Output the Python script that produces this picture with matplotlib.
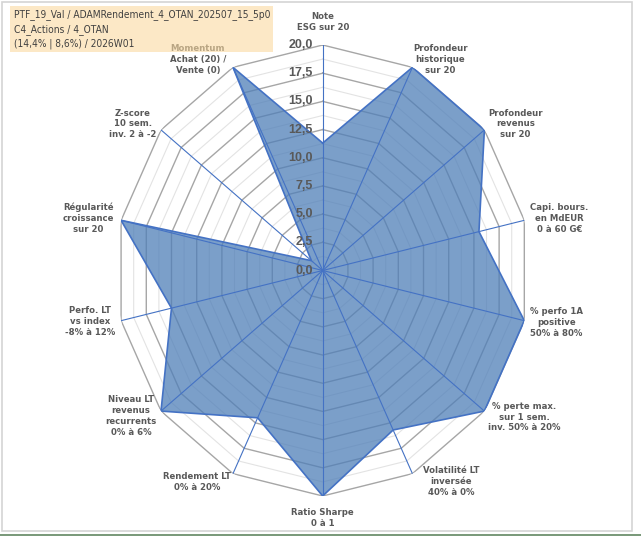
import numpy as np
import matplotlib
matplotlib.use("Agg")
import matplotlib.pyplot as plt
from matplotlib.patches import Rectangle
from matplotlib import font_manager as fm

# ---- data ----
axis_labels = [
    "Note\nESG sur 20",
    "Profondeur\nhistorique\nsur 20",
    "Profondeur\nrevenus\nsur 20",
    "Capi. bours.\nen MdEUR\n0 à 60 G€",
    "% perfo 1A\npositive\n50% à 80%",
    "% perte max.\nsur 1 sem.\ninv. 50% à 20%",
    "Volatilité LT\ninversée\n40% à 0%",
    "Ratio Sharpe\n0 à 1",
    "Rendement LT\n0% à 20%",
    "Niveau LT\nrevenus\nrecurrents\n0% à 6%",
    "Perfo. LT\nvs index\n-8% à 12%",
    "Régularité\ncroissance\nsur 20",
    "Z-score\n10 sem.\ninv. 2 à -2",
    "Momentum\nAchat (20) /\nVente (0)",
]
scores = [11.3, 20.0, 20.0, 15.5, 20.0, 20.0, 15.7, 20.0, 14.5, 20.0, 15.0, 20.0, 1.4, 20.0]
radial_ticks = [0.0, 2.5, 5.0, 7.5, 10.0, 12.5, 15.0, 17.5, 20.0]
title_lines = [
    "PTF_19_Val / ADAMRendement_4_OTAN_202507_15_5p0",
    "C4_Actions / 4_OTAN",
    "(14,4% | 8,6%) / 2026W01",
]

# ---- fonts ----
names = {f.name for f in fm.fontManager.ttflist}
has_dv_cond = any(f.name == "DejaVu Sans" and f.stretch == "condensed"
                  for f in fm.fontManager.ttflist)
if "Liberation Sans Narrow" in names:
    NARROW = dict(family=["Liberation Sans Narrow", "DejaVu Sans"])
elif has_dv_cond:
    NARROW = dict(family=["DejaVu Sans"], fontstretch="condensed")
else:
    NARROW = dict(family=["Liberation Sans", "DejaVu Sans"])

# ---- figure ----
W, H = 641, 536
fig = plt.figure(figsize=(W / 100, H / 100), dpi=100)
fig.patch.set_facecolor("white")

cx, cy, rx, ry = 322.7, 270.5, 206.8, 225.5
ax = fig.add_axes([(cx - rx) / W, (H - cy - ry) / H, 2 * rx / W, 2 * ry / H],
                  projection="polar")
ax.set_aspect("auto")
ax.set_theta_zero_location("N")
ax.set_theta_direction(-1)
ax.set_ylim(0, 20)
ax.grid(False)
ax.spines["polar"].set_visible(False)
ax.set_xticks([])
ax.set_yticks([])
ax.patch.set_alpha(0)

n = len(scores)
theta = np.arange(n) * 2 * np.pi / n
theta_c = np.append(theta, theta[0])

# polygon grid: minor then major
step = radial_ticks[1] - radial_ticks[0]
for r in radial_ticks[:-1]:
    rm = r + step / 2
    ax.plot(theta_c, [rm] * (n + 1), color="#E3E3E3", lw=0.8, zorder=1)
for r in radial_ticks[1:]:
    ax.plot(theta_c, [r] * (n + 1), color="#A6A6A6", lw=1.0, zorder=1.2)

vals_c = np.append(scores, scores[0])
ax.fill(theta_c, vals_c, color="#4F7FB8", alpha=0.75, zorder=2, lw=0)
ax.plot(theta_c, vals_c, color="#4472C4", lw=1.2, zorder=3)

# spokes
for t in theta:
    ax.plot([t, t], [0, radial_ticks[-1]], color="#4472C4", lw=0.8, zorder=4)

# radial tick labels
for r in radial_ticks:
    ax.annotate(f"{r:.1f}".replace(".", ","), xy=(0, r), xytext=(-10, 0),
                textcoords="offset pixels", ha="right", va="center",
                fontsize=9, fontweight="bold", color="#595959",
                family=["Liberation Sans", "DejaVu Sans"], zorder=5)

# axis labels
label_offsets = [(0, -23), (28, -8), (31, -6), (35, -2), (32, 2), (40, 6), (39, 8),
                 (0, 22), (-36, 8), (-30, 5), (-31, 1), (-33, -2), (-28, -6), (-35, -8)]
lab_texts = []
for t, lab, (dx, dy) in zip(theta, axis_labels, label_offsets):
    tx = ax.annotate(lab, xy=(t, radial_ticks[-1]), xytext=(dx, -dy),
                     textcoords="offset pixels", ha="center", va="center",
                     multialignment="center", fontsize=7.5, fontweight="bold",
                     color="#595959", linespacing=1.25,
                     annotation_clip=False, **NARROW)
    lab_texts.append(tx)

# overlay for frame and title box
ov = fig.add_axes([0, 0, 1, 1], zorder=10)
ov.set_xlim(0, W)
ov.set_ylim(H, 0)
ov.axis("off")
ov.patch.set_alpha(0)
ov.add_patch(Rectangle((1.5, 1.5), 630.5, 529.5, fill=False, ec="#D4D4D4", lw=1.2))
ov.add_patch(Rectangle((0, 533.5), W, 3, fc="#7B9A7B", ec="none"))
ov.add_patch(Rectangle((10, 5.5), 263, 46, fc="#FAD9A0", alpha=0.6, ec="none"))
title_texts = []
for k, line in enumerate(title_lines):
    title_texts.append(ov.text(13.5, 15 + 14.2 * k, line, ha="left", va="center",
                               fontsize=9, color="#404040", **NARROW))

# fit title width to the box (target ~258 px for the first line)
fig.canvas.draw()
w0 = title_texts[0].get_window_extent().width
fs = min(9.0, 9.0 * 257.0 / w0)
for tt in title_texts:
    tt.set_fontsize(fs)

# fit "Profondeur" label width (~49 px in the reference)
w1 = lab_texts[1].get_window_extent().width  # widest line "Profondeur"
lfs = min(7.5, 7.5 * 50.0 / w1) if w1 > 0 else 7.5
for tx in lab_texts:
    tx.set_fontsize(max(lfs, 6.8))

fig.savefig("out.png", dpi=100)
